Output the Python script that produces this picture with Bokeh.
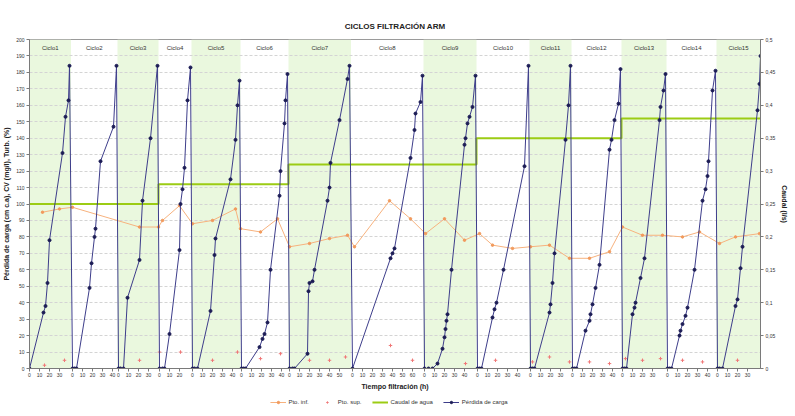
from bokeh.plotting import figure
from bokeh.layouts import column
from bokeh.models import (Range1d, LinearAxis, FixedTicker, Legend, LegendItem,
                          CustomJSTickFormatter, BoxAnnotation)
from bokeh.core.properties import value
from bokeh.embed import file_html
from bokeh.resources import INLINE

# ---------------- data ----------------
cycle_names = ["Ciclo1", "Ciclo2", "Ciclo3", "Ciclo4", "Ciclo5", "Ciclo6", "Ciclo7", "Ciclo8",
               "Ciclo9", "Ciclo10", "Ciclo11", "Ciclo12", "Ciclo13", "Ciclo14", "Ciclo15"]
cycle_start = [0, 43, 89, 130, 163, 212, 260, 323, 395, 448, 501, 543, 593, 638, 688]
time_end = 731
caudal = [0.25, 0.25, 0.25, 0.28, 0.28, 0.28, 0.31, 0.31, 0.31, 0.35, 0.35, 0.35, 0.38, 0.38, 0.38]

perdida_t = [
    [0, 14, 16, 18, 20, 33, 36, 39, 40],
    [0, 2, 4, 17, 19, 22, 23, 28, 41, 44],
    [0, 2, 5, 9, 21, 24, 32, 39],
    [0, 3, 5, 10, 20, 21, 23, 25, 28, 31],
    [0, 2, 5, 18, 22, 23, 38, 43, 45, 47],
    [0, 2, 4, 18, 21, 23, 26, 29, 38, 39, 43, 44, 46],
    [0, 3, 5, 18, 19, 20, 23, 25, 38, 40, 41, 50, 58, 60],
    [0, 38, 40, 42, 58, 62, 63, 68, 70],
    [0, 4, 8, 13, 18, 20, 21, 22, 23, 27, 40, 41, 43, 45, 48, 51],
    [0, 2, 4, 15, 17, 19, 26, 47, 51],
    [0, 2, 4, 19, 20, 22, 24, 35, 38, 40],
    [0, 2, 4, 13, 17, 18, 20, 23, 27, 37, 39, 42, 46, 48],
    [0, 2, 4, 10, 12, 13, 18, 22, 37, 38, 41, 43],
    [0, 2, 4, 12, 13, 15, 18, 20, 27, 35, 38, 40, 41, 45, 48],
    [0, 2, 5, 18, 20, 23, 25, 40, 42, 43],
]
perdida_v = [
    [0, 34, 38, 52, 78, 131, 153, 163, 184],
    [0, 0, 0, 49, 64, 80, 85, 126, 147, 184],
    [0, 0, 0, 43, 66, 102, 140, 184],
    [0, 0, 0, 21, 72, 100, 109, 122, 163, 183],
    [0, 0, 0, 35, 69, 79, 115, 139, 160, 175],
    [0, 0, 0, 13, 18, 21, 28, 60, 105, 120, 149, 163, 179],
    [0, 0, 0, 9, 47, 52, 53, 60, 102, 110, 125, 151, 176, 184],
    [0, 67, 70, 73, 128, 145, 155, 162, 178],
    [0, 0, 0, 3, 12, 19, 24, 29, 33, 60, 136, 140, 149, 153, 159, 178],
    [0, 0, 0, 31, 36, 40, 60, 123, 184],
    [0, 0, 0, 34, 39, 52, 70, 139, 160, 184],
    [0, 0, 0, 23, 29, 33, 39, 49, 63, 133, 139, 151, 161, 182],
    [0, 0, 0, 33, 37, 40, 55, 67, 151, 159, 169, 179],
    [0, 0, 0, 20, 23, 27, 32, 37, 60, 102, 109, 117, 126, 169, 181],
    [0, 0, 0, 38, 42, 61, 74, 157, 173, 190],
]

pto_inf_h = [13, 30, 43, 110, 129, 133, 150, 163, 183, 206, 211, 231, 248, 260, 280, 300, 318, 325,
             360, 381, 396, 415, 435, 450, 463, 483, 501, 520, 540, 560, 580, 593, 613, 633, 653,
             670, 690, 706, 730]
pto_inf_v = [95, 97, 98, 86, 86, 90, 99, 88, 90, 97, 85, 83, 91, 74, 76, 79, 81, 74,
             102, 91, 82, 91, 78, 82, 75, 73, 74, 75, 67, 67, 71, 86, 81, 81, 80,
             83, 76, 80, 82]

pto_sup_h = [15, 35, 110, 130, 151, 183, 208, 231, 251, 280, 300, 316, 361, 383, 436, 466, 503,
             520, 540, 560, 580, 596, 613, 631, 653, 673, 708]
pto_sup_v = [2, 5, 5, 10, 10, 5, 10, 6, 9, 5, 5, 7, 14, 5, 3, 5, 4,
             7, 4, 4, 3, 6, 5, 6, 5, 4, 5]

legend_labels = ["Pto. inf.", "Pto. sup.", "Caudal de agua", "Pérdida de carga"]
left_ticks = list(range(0, 201, 10))
right_ticks = [round(0.05 * i, 2) for i in range(11)]

# ---------------- derived ----------------
FONT = "Liberation Sans"
C_INF_L, C_INF_M = "#f7b27e", "#f29a5c"
C_SUP = "#f07878"
C_Q = "#9ccc14"
C_P_L, C_P_M = "#3d3d8a", "#1c1c55"

px, py = [], []
for s, ts, vs in zip(cycle_start, perdida_t, perdida_v):
    px += [s + t for t in ts]
    py += vs

edges = [0]
for i in range(1, len(cycle_start)):
    last = cycle_start[i - 1] + perdida_t[i - 1][-1]
    edges.append((last + cycle_start[i]) / 2)
edges.append(time_end)

qx, qy = [], []
for i, q in enumerate(caudal):
    qx += [edges[i], edges[i + 1]]
    qy += [q, q]

xticks, xlabels = [], {}
for i, s in enumerate(cycle_start):
    dur = (cycle_start[i + 1] if i + 1 < len(cycle_start) else time_end) - s
    k = 0
    while k * 10 <= dur - 6:
        xticks.append(s + k * 10)
        xlabels[s + k * 10] = str(k * 10)
        k += 1

# ---------------- main figure ----------------
p = figure(frame_width=731, frame_height=329, output_backend="svg", toolbar_location=None,
           x_range=Range1d(0, time_end), y_range=Range1d(0, 200),
           min_border_left=29, min_border_right=19, min_border_top=39, min_border_bottom=26,
           background_fill_color="white", border_fill_color="white")
p.title.text = "CICLOS FILTRACIÓN ARM"
p.title.align = "center"
p.title.text_font = FONT
p.title.text_font_size = "8px"
p.title.text_font_style = "bold"
p.title.text_color = "#222222"
p.title.standoff = 18
p.outline_line_color = "#9a9a9a"

p.extra_y_ranges = {"q": Range1d(0, 0.5)}

for i in range(len(cycle_start)):
    if i % 2 == 0:
        p.add_layout(BoxAnnotation(left=edges[i], right=edges[i + 1], fill_color="#eaf8de",
                                   fill_alpha=1.0, line_alpha=0, level="image"))

p.xgrid.visible = False
p.ygrid.ticker = FixedTicker(ticks=left_ticks)
p.ygrid.grid_line_color = "#d4d4d4"
p.ygrid.grid_line_dash = "3 2"
p.ygrid.level = "underlay"

p.yaxis.ticker = FixedTicker(ticks=left_ticks)
p.yaxis.axis_label = "Pérdida de carga (cm c.a), CV (mg/l), Turb. (%)"
p.xaxis.ticker = FixedTicker(ticks=xticks)
p.xaxis.major_label_overrides = xlabels
p.xaxis.axis_label = "Tiempo filtración (h)"

right = LinearAxis(y_range_name="q", ticker=FixedTicker(ticks=right_ticks),
                   formatter=CustomJSTickFormatter(code="return (Math.round(tick*100)/100).toString().replace('.', ',');"),
                   axis_label="Caudal (l/s)")
p.add_layout(right, "right")

for ax in [p.xaxis[0], p.yaxis[0], right]:
    ax.axis_line_color = "#7a7a7a"
    ax.major_tick_line_color = "#7a7a7a"
    ax.minor_tick_line_color = None
    ax.major_tick_out = 3
    ax.major_tick_in = 0
    ax.major_label_text_font = FONT
    ax.major_label_text_font_size = "5px"
    ax.major_label_text_color = "#333333"
    ax.major_label_standoff = 2
    ax.axis_label_text_font = FONT
    ax.axis_label_text_font_size = "7px"
    ax.axis_label_text_font_style = "bold"
    ax.axis_label_text_color = "#222222"
    ax.axis_label_standoff = 3
p.xaxis.axis_label_standoff = 3
p.xaxis.major_label_standoff = 1

p.line(pto_inf_h, pto_inf_v, line_color=C_INF_L, line_width=1)
p.scatter(pto_inf_h, pto_inf_v, size=2.5, marker="circle", fill_color=C_INF_M, line_color=C_INF_M)
p.scatter(pto_sup_h, pto_sup_v, size=3.5, marker="cross", line_color=C_SUP, line_width=1)
p.line(qx, qy, y_range_name="q", line_color=C_Q, line_width=2)
p.line(px, py, line_color=C_P_L, line_width=1)
p.scatter(px, py, size=3, marker="circle", fill_color=C_P_M, line_color=C_P_M)

cx = [(edges[i] + edges[i + 1]) / 2 for i in range(len(cycle_names))]
p.text(cx, [195] * len(cx), text=cycle_names, text_font=value(FONT), text_font_size="6px",
       text_color="#333333", text_align="center", text_baseline="middle")

# ---------------- legend strip ----------------
lg = figure(width=779, height=16, output_backend="svg", toolbar_location=None,
            x_range=Range1d(0, 1), y_range=Range1d(0, 1),
            min_border_left=0, min_border_right=0, min_border_top=0, min_border_bottom=0,
            background_fill_color="white", border_fill_color="white")
lg.axis.visible = False
lg.grid.visible = False
lg.outline_line_color = None
off = [-5]  # placeholder point outside the visible range, only used for legend swatches
a1 = lg.line(x=off, y=off, line_color=C_INF_L, line_width=1)
a2 = lg.scatter(x=off, y=off, size=2.5, marker="circle", fill_color=C_INF_M, line_color=C_INF_M)
b1 = lg.scatter(x=off, y=off, size=3.5, marker="cross", line_color=C_SUP, line_width=1)
c1 = lg.line(x=off, y=off, line_color=C_Q, line_width=2)
d1 = lg.line(x=off, y=off, line_color=C_P_L, line_width=1)
d2 = lg.scatter(x=off, y=off, size=3, marker="circle", fill_color=C_P_M, line_color=C_P_M)
legend = Legend(items=[
    LegendItem(label=legend_labels[0], renderers=[a1, a2]),
    LegendItem(label=legend_labels[1], renderers=[b1]),
    LegendItem(label=legend_labels[2], renderers=[c1]),
    LegendItem(label=legend_labels[3], renderers=[d1, d2]),
], orientation="horizontal", location="center")
legend.label_text_font = FONT
legend.label_text_font_size = "6px"
legend.label_text_color = "#333333"
legend.glyph_width = 16
legend.glyph_height = 6
legend.label_height = 6
legend.label_standoff = 3
legend.spacing = 10
legend.padding = 1
legend.margin = 0
legend.border_line_alpha = 0
legend.background_fill_alpha = 0
lg.add_layout(legend)

open("out.html", "w").write(file_html(column(p, lg, spacing=0), INLINE))
